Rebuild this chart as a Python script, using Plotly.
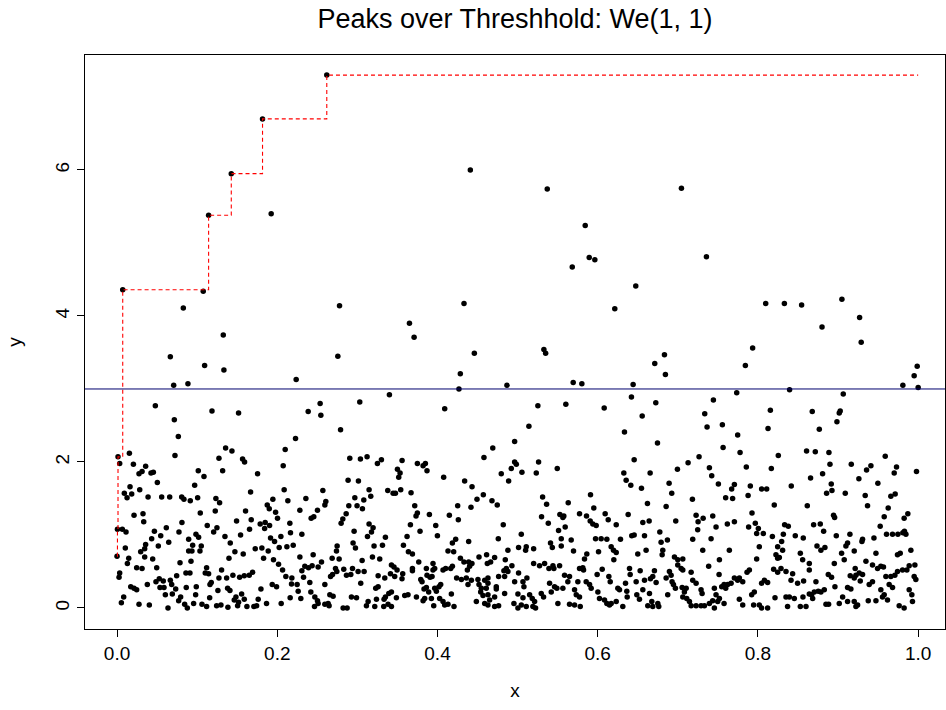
import numpy as np
import plotly.graph_objects as go

title_text = "Peaks over Threshhold: We(1, 1)"
threshold = 3.0
x_ticks = [0.0, 0.2, 0.4, 0.6, 0.8, 1.0]
x_tick_text = ["0.0", "0.2", "0.4", "0.6", "0.8", "1.0"]
y_ticks = [0, 2, 4, 6]
y_tick_text = ["0", "2", "4", "6"]

# ---- points above y ~ 2 (left half) ----
upper_left_x = [0.0, 0.0012, 0.0071, 0.1076, 0.1143, 0.1426, 0.1816, 0.2618, 0.1924,
                0.441, 0.0827, 0.2777, 0.4331, 0.365, 0.3708, 0.1326, 0.0665, 0.2756, 0.446,
                0.1093, 0.1334, 0.4285, 0.2236, 0.0707, 0.0885, 0.4268, 0.4867, 0.0478, 0.0715,
                0.0765, 0.1185, 0.1517, 0.2386, 0.2535, 0.2544, 0.303, 0.340, 0.409, 0.279,
                0.2228, 0.0154, 0.1355, 0.1434, 0.2099, 0.469, 0.4963]
upper_left_y = [0.71, 2.07, 4.36, 4.34, 5.38, 5.95, 6.70, 7.30, 5.40,
                6.00, 4.11, 4.14, 4.17, 3.90, 3.71, 3.74, 3.44, 3.45, 3.49,
                3.32, 3.26, 3.21, 3.13, 3.05, 3.07, 3.00, 3.05, 2.77, 2.58,
                2.35, 2.70, 2.67, 2.69, 2.80, 2.64, 2.82, 2.92, 2.73, 2.44,
                2.32, 2.12, 2.19, 2.15, 2.17, 2.19, 2.28]

# ---- points above y ~ 2 (right half) ----
upper_right_x = [0.537, 0.7045, 0.5844, 0.5894, 0.5964, 0.5682, 0.7357, 0.6475, 0.6213, 0.8097,
                 0.833, 0.8545, 0.9048, 0.9269, 0.9289, 0.880, 0.5328, 0.535, 0.7934, 0.7843,
                 0.6712, 0.6833, 0.6845, 0.5694, 0.5802, 0.6442, 0.7735, 0.8395, 0.9065, 0.9809,
                 0.995, 0.9988, 1.0, 0.5141, 0.5253, 0.5602, 0.6081, 0.6421, 0.6555, 0.6725,
                 0.6334, 0.6746, 0.7444, 0.7336, 0.7365, 0.7556, 0.7747, 0.7565, 0.7777, 0.8155,
                 0.8126, 0.8678, 0.8766, 0.8607, 0.8716, 0.8886, 0.9027, 0.9015, 0.8986]
upper_right_y = [5.74, 5.75, 5.24, 4.80, 4.77, 4.67, 4.81, 4.41, 4.10, 4.17,
                 4.17, 4.15, 4.23, 3.98, 3.64, 3.85, 3.54, 3.49, 3.56, 3.32,
                 3.35, 3.47, 3.20, 3.09, 3.07, 3.06, 2.95, 2.99, 2.93, 3.05,
                 3.18, 3.31, 3.02, 2.49, 2.77, 2.79, 2.74, 2.89, 2.63, 2.81,
                 2.41, 2.26, 2.85, 2.66, 2.48, 2.51, 2.37, 2.20, 2.13, 2.71,
                 2.46, 2.69, 2.45, 2.15, 2.14, 2.13, 2.70, 2.67, 2.55]

# ---- band 1 to 2, x 0.0 - 0.25 ----
band_a_x = [0.0723, 0.0033, 0.0204, 0.0357, 0.1272, 0.1567, 0.1592, 0.2074, 0.0274, 0.0312,
            0.0424, 0.0453, 0.1014, 0.1085, 0.1318, 0.1754, 0.0503, 0.0969, 0.0162, 0.0283,
            0.0091, 0.0125, 0.0183, 0.0387, 0.0557, 0.0657, 0.0807, 0.0835, 0.0914, 0.1006,
            0.1234, 0.1280, 0.1667, 0.2086, 0.1945, 0.2132, 0.2357, 0.1875, 0.1900, 0.2282,
            0.2502, 0.2456, 0.2423, 0.1604, 0.1226, 0.1039, 0.0212, 0.0324, 0.0333, 0.1979,
            0.2003, 0.1675, 0.1492, 0.0810, 0.2157, 0.1787, 0.1849, 0.1904, 0.1842, 0.1126,
            0.1247, 0.1206, 0.1654, 0.0005, 0.0066, 0.0112, 0.0615, 0.0466, 0.0773, 0.0985,
            0.1018, 0.0545, 0.0432, 0.0894, 0.1347, 0.1542, 0.1916, 0.2045, 0.2165, 0.2307]
band_a_y = [2.09, 1.98, 1.97, 1.94, 2.05, 2.04, 2.00, 1.95, 1.84, 1.87,
            1.85, 1.86, 1.88, 1.80, 1.88, 1.84, 1.72, 1.68, 1.66, 1.62,
            1.57, 1.51, 1.56, 1.52, 1.52, 1.52, 1.52, 1.49, 1.47, 1.51,
            1.50, 1.44, 1.59, 1.62, 1.49, 1.47, 1.50, 1.41, 1.36, 1.34,
            1.34, 1.25, 1.23, 1.33, 1.33, 1.30, 1.27, 1.29, 1.18, 1.31,
            1.23, 1.21, 1.19, 1.17, 1.16, 1.15, 1.17, 1.13, 1.09, 1.13,
            1.10, 1.04, 1.08, 1.08, 1.08, 1.04, 1.10, 1.05, 1.04, 1.01,
            0.97, 0.99, 0.95, 0.94, 0.98, 1.00, 0.96, 0.98, 1.03, 1.01]

# ---- band 1 to 2, x 0.25 - 0.5 ----
band_b_x = [0.2905, 0.3038, 0.3121, 0.3250, 0.3300, 0.3558, 0.3749, 0.3820, 0.3849, 0.3500,
            0.3533, 0.3516, 0.3869, 0.4077, 0.4580, 0.4963, 0.4921, 0.4984, 0.4796, 0.4888,
            0.5054, 0.2884, 0.3013, 0.4339, 0.4431, 0.2569, 0.3146, 0.3167, 0.3379, 0.3446,
            0.3475, 0.3541, 0.3670, 0.2968, 0.3080, 0.2606, 0.2594, 0.2893, 0.2996, 0.3063,
            0.3716, 0.2860, 0.2818, 0.2797, 0.3749, 0.3732, 0.3899, 0.4148, 0.4252, 0.4418,
            0.4493, 0.4572, 0.4680, 0.4746, 0.4260, 0.4821, 0.3662, 0.3978, 0.3782, 0.3146,
            0.3196, 0.3176, 0.3126, 0.2959, 0.3350, 0.3620, 0.3999, 0.4227, 0.4759, 0.5046]
band_b_y = [2.05, 2.04, 2.07, 1.98, 2.03, 2.02, 1.98, 1.95, 1.98, 1.90,
            1.85, 1.79, 1.88, 1.79, 2.06, 2.00, 1.91, 1.97, 1.84, 1.74,
            1.86, 1.75, 1.74, 1.74, 1.66, 1.61, 1.62, 1.53, 1.61, 1.57,
            1.57, 1.62, 1.58, 1.51, 1.48, 1.46, 1.41, 1.40, 1.40, 1.36,
            1.40, 1.29, 1.22, 1.16, 1.30, 1.26, 1.28, 1.27, 1.40, 1.38,
            1.49, 1.55, 1.47, 1.41, 1.21, 1.14, 1.14, 1.13, 1.05, 1.15,
            1.10, 1.04, 0.98, 1.05, 0.97, 0.98, 0.99, 0.94, 0.95, 1.01]

# ---- band 1 to 2, x 0.5 - 0.76 ----
band_c_x = [0.5262, 0.5233, 0.5495, 0.6455, 0.6326, 0.6355, 0.6413, 0.6654, 0.6546, 0.6995,
            0.7128, 0.7265, 0.7394, 0.7423, 0.7506, 0.6891, 0.6924, 0.7182, 0.7597, 0.5312,
            0.5362, 0.5632, 0.5910, 0.5951, 0.6621, 0.6854, 0.5299, 0.5383, 0.5528, 0.5565,
            0.5577, 0.5773, 0.5860, 0.5906, 0.5939, 0.5981, 0.6093, 0.6131, 0.6231, 0.6380,
            0.6563, 0.6642, 0.6974, 0.7228, 0.7253, 0.7316, 0.7436, 0.7477, 0.7618, 0.5594,
            0.5511, 0.6775, 0.7248, 0.6455, 0.6425, 0.6584]
band_c_y = [2.00, 1.85, 1.91, 2.03, 1.85, 1.75, 1.68, 1.85, 1.64, 1.90,
            1.99, 2.07, 1.92, 1.81, 1.70, 1.71, 1.57, 1.49, 1.51, 1.52,
            1.42, 1.44, 1.55, 1.37, 1.43, 1.39, 1.25, 1.16, 1.28, 1.24,
            1.26, 1.29, 1.26, 1.19, 1.15, 1.13, 1.29, 1.21, 1.14, 1.28,
            1.17, 1.19, 1.19, 1.27, 1.18, 1.23, 1.26, 1.11, 1.15, 1.11,
            1.06, 1.04, 1.07, 1.00, 0.99, 0.99]

# ---- band 1 to 2, x 0.76 - 1.0 ----
band_d_x = [0.8254, 0.9589, 0.7855, 0.8167, 0.8899, 0.9165, 0.9356, 0.9410, 0.9730, 0.9701,
            0.9979, 0.8657, 0.8807, 0.9260, 0.9497, 0.8915, 0.8924, 0.8857, 0.9090, 0.9339,
            0.9659, 0.9713, 0.7706, 0.7672, 0.7905, 0.8046, 0.8109, 0.8416, 0.7684, 0.7877,
            0.8204, 0.8616, 0.9368, 0.9626, 0.7926, 0.8944, 0.8957, 0.9576, 0.9825, 0.9871,
            0.7706, 0.7884, 0.7967, 0.8005, 0.8333, 0.8379, 0.8695, 0.8778, 0.8820, 0.9526,
            0.7984, 0.8067, 0.8180, 0.8317, 0.8466, 0.8566, 0.8978, 0.9148, 0.9306, 0.9448,
            0.9605, 0.9680, 0.9747, 0.9809, 0.9847, 0.9829]
band_d_y = [2.09, 2.08, 1.93, 1.91, 1.97, 1.97, 1.89, 1.95, 1.93, 1.85,
            1.87, 1.78, 1.84, 1.77, 1.71, 1.70, 1.61, 1.57, 1.57, 1.54,
            1.53, 1.56, 1.69, 1.63, 1.67, 1.63, 1.63, 1.67, 1.50, 1.54,
            1.41, 1.40, 1.40, 1.37, 1.30, 1.27, 1.24, 1.25, 1.23, 1.29,
            1.18, 1.11, 1.16, 1.09, 1.14, 1.12, 1.14, 1.15, 1.05, 1.12,
            1.02, 1.02, 0.98, 1.01, 0.99, 0.96, 0.99, 1.01, 0.94, 0.96,
            1.01, 1.01, 1.01, 1.03, 1.01, 1.05]

# ---- band 0 to 1, x 0.0 - 0.25 ----
low_a_x = [0.0645, 0.0103, 0.0357, 0.0345, 0.0515, 0.0295, 0.0345, 0.0445, 0.0245, 0.0312,
           0.0495, 0.0146, 0.0129, 0.0033, 0.0025, 0.0786, 0.0923, 0.0894, 0.0935, 0.0944,
           0.1051, 0.1035, 0.0860, 0.0910, 0.0744, 0.0378, 0.0171, 0.0212, 0.0245, 0.0486,
           0.0527, 0.0577, 0.0536, 0.0586, 0.0665, 0.0682, 0.0732, 0.0603, 0.0690, 0.0794,
           0.0769, 0.0864, 0.0989, 0.0981, 0.0844, 0.0877, 0.0956, 0.1060, 0.1118, 0.0083,
           0.0054, 0.0274, 0.0403, 0.0636, 0.1156, 0.1259, 0.1380, 0.1409, 0.1484, 0.1463,
           0.1517, 0.1555, 0.1588, 0.1243, 0.1297, 0.1384, 0.1505, 0.1621, 0.1708, 0.1742,
           0.1762, 0.1866, 0.1796, 0.2049, 0.2161, 0.2294, 0.2465, 0.2419, 0.2261, 0.1937,
           0.1991, 0.2178, 0.2248, 0.2406, 0.1118, 0.1101, 0.1143, 0.1305, 0.1368, 0.1446,
           0.1176, 0.1160, 0.1272, 0.1530, 0.1588, 0.1650, 0.1692, 0.1397, 0.1471, 0.1575,
           0.1413, 0.1725, 0.1808, 0.1887, 0.1829, 0.1966, 0.2024, 0.2120, 0.2199, 0.1953,
           0.2016, 0.2066, 0.2107, 0.2182, 0.2282, 0.2307, 0.2344, 0.2390, 0.2435, 0.2448,
           0.2328]
low_a_y = [0.90, 0.82, 0.87, 0.81, 0.85, 0.77, 0.70, 0.67, 0.55, 0.54,
           0.55, 0.68, 0.61, 0.48, 0.42, 0.62, 0.64, 0.78, 0.78, 0.86,
           0.85, 0.78, 0.48, 0.48, 0.44, 0.32, 0.29, 0.27, 0.25, 0.36,
           0.40, 0.37, 0.28, 0.28, 0.38, 0.32, 0.26, 0.18, 0.19, 0.15,
           0.10, 0.28, 0.29, 0.18, 0.05, 0.00, 0.06, 0.05, 0.02, 0.15,
           0.07, 0.05, 0.04, 0.00, 0.14, 0.24, 0.27, 0.24, 0.15, 0.11,
           0.08, 0.19, 0.12, 0.03, 0.04, 0.01, 0.03, 0.02, 0.02, 0.03,
           0.12, 0.06, 0.26, 0.06, 0.14, 0.13, 0.02, 0.22, 0.23, 0.32,
           0.29, 0.33, 0.32, 0.35, 0.55, 0.48, 0.47, 0.52, 0.41, 0.45,
           0.35, 0.32, 0.41, 0.42, 0.44, 0.45, 0.49, 0.68, 0.77, 0.74,
           0.89, 0.81, 0.82, 0.78, 0.68, 0.91, 0.83, 0.84, 0.86, 0.66,
           0.60, 0.52, 0.43, 0.41, 0.70, 0.51, 0.57, 0.55, 0.58, 0.73,
           0.42]

# ---- band 0 to 1, x 0.25 - 0.5 ----
low_b_x = [0.4186, 0.4389, 0.2946, 0.2976, 0.2747, 0.2739, 0.3208, 0.3313, 0.3575, 0.3637,
           0.3687, 0.4131, 0.4202, 0.4879, 0.5012, 0.2552, 0.2685, 0.2772, 0.3059, 0.3188,
           0.3279, 0.3425, 0.3457, 0.3495, 0.3766, 0.3944, 0.4286, 0.4330, 0.4389, 0.4430,
           0.4401, 0.4373, 0.4518, 0.4613, 0.4713, 0.4663, 0.4622, 0.4846, 0.4929, 0.4859,
           0.4829, 0.2510, 0.2727, 0.2743, 0.2830, 0.2864, 0.2918, 0.2939, 0.3009, 0.3084,
           0.2665, 0.2690, 0.3259, 0.3342, 0.3413, 0.3466, 0.3566, 0.3557, 0.3687, 0.3687,
           0.3861, 0.3944, 0.3965, 0.4069, 0.4102, 0.4165, 0.4186, 0.3869, 0.3932, 0.3907,
           0.3791, 0.3807, 0.4239, 0.4298, 0.4360, 0.4423, 0.4505, 0.4589, 0.4630, 0.4381,
           0.4518, 0.4547, 0.4630, 0.4609, 0.4763, 0.4838, 0.4879, 0.4963, 0.5012, 0.4734,
           0.4734, 0.4838, 0.5004, 0.4539, 0.4568, 0.4630, 0.4651, 0.4713, 0.4485, 0.4589,
           0.4630, 0.4713, 0.4763, 0.4954, 0.5004, 0.5046, 0.2469, 0.2502, 0.2510, 0.2594,
           0.2656, 0.2697, 0.2594, 0.2647, 0.2635, 0.2822, 0.2872, 0.2926, 0.2989, 0.3042,
           0.3259, 0.3229, 0.3134, 0.3113, 0.3238, 0.3217, 0.3333, 0.3350, 0.3392, 0.3425,
           0.3329, 0.3383, 0.3425, 0.3487, 0.3591, 0.3632, 0.3737, 0.3820, 0.3840, 0.3924,
           0.3953, 0.4027, 0.4069, 0.4090, 0.4131, 0.4206, 0.4173, 0.3832, 0.3861, 0.3890,
           0.3965, 0.3986, 0.4019, 0.4040]
low_b_y = [0.89, 0.91, 0.89, 0.82, 0.85, 0.78, 0.85, 0.86, 0.86, 0.77,
           0.74, 0.78, 0.77, 0.79, 0.83, 0.63, 0.68, 0.67, 0.65, 0.70,
           0.67, 0.59, 0.56, 0.52, 0.63, 0.61, 0.68, 0.63, 0.63, 0.61,
           0.57, 0.52, 0.70, 0.73, 0.69, 0.63, 0.61, 0.66, 0.58, 0.54,
           0.51, 0.56, 0.54, 0.50, 0.53, 0.45, 0.46, 0.54, 0.50, 0.50,
           0.43, 0.46, 0.44, 0.41, 0.47, 0.43, 0.47, 0.40, 0.54, 0.51,
           0.54, 0.52, 0.54, 0.52, 0.54, 0.54, 0.57, 0.45, 0.43, 0.42,
           0.39, 0.36, 0.41, 0.39, 0.41, 0.38, 0.39, 0.38, 0.41, 0.32,
           0.32, 0.27, 0.34, 0.27, 0.43, 0.43, 0.50, 0.36, 0.48, 0.29,
           0.26, 0.20, 0.19, 0.22, 0.17, 0.18, 0.11, 0.15, 0.09, 0.06,
           0.04, 0.02, 0.03, 0.06, 0.00, 0.04, 0.15, 0.10, 0.06, 0.32,
           0.18, 0.16, 0.05, 0.03, 0.06, 0.00, 0.00, 0.15, 0.14, 0.34,
           0.29, 0.27, 0.09, 0.03, 0.12, 0.02, 0.12, 0.15, 0.20, 0.22,
           0.02, 0.05, 0.02, 0.14, 0.17, 0.18, 0.15, 0.10, 0.13, 0.13,
           0.03, 0.13, 0.09, 0.04, 0.05, 0.02, 0.19, 0.26, 0.28, 0.22,
           0.27, 0.23, 0.29, 0.32]

# ---- band 0 to 1, x 0.5 - 0.76 ----
low_c_x = [0.5545, 0.5669, 0.5973, 0.6043, 0.6114, 0.6284, 0.6870, 0.7186, 0.7415, 0.5108,
           0.5100, 0.5200, 0.5411, 0.5433, 0.5545, 0.5698, 0.5864, 0.5835, 0.6010, 0.6168,
           0.6197, 0.6231, 0.6201, 0.6500, 0.6604, 0.6791, 0.6812, 0.6804, 0.6958, 0.6999,
           0.7062, 0.7311, 0.7519, 0.7385, 0.5200, 0.5274, 0.5337, 0.5391, 0.5441, 0.5453,
           0.5524, 0.5116, 0.5067, 0.5079, 0.5067, 0.5150, 0.5183, 0.5212, 0.5108, 0.5191,
           0.5224, 0.5295, 0.5324, 0.5399, 0.5420, 0.5461, 0.5490, 0.5565, 0.5586, 0.5648,
           0.5627, 0.5503, 0.5648, 0.5711, 0.5782, 0.5711, 0.5732, 0.5773, 0.5773, 0.5814,
           0.5823, 0.5752, 0.5856, 0.5898, 0.5918, 0.5993, 0.6056, 0.6139, 0.6156, 0.6002,
           0.6022, 0.6085, 0.6114, 0.6147, 0.6168, 0.6251, 0.6272, 0.6231, 0.6313, 0.6347,
           0.6363, 0.6368, 0.6397, 0.6405, 0.6480, 0.6530, 0.6563, 0.6488, 0.6521, 0.6584,
           0.6658, 0.6687, 0.6708, 0.6729, 0.6646, 0.6675, 0.6625, 0.6687, 0.6750, 0.6762,
           0.6854, 0.6895, 0.6916, 0.6928, 0.6945, 0.6970, 0.6874, 0.6999, 0.7041, 0.7062,
           0.7166, 0.7054, 0.7104, 0.7082, 0.7062, 0.7111, 0.7145, 0.7166, 0.7228, 0.7290,
           0.7332, 0.7186, 0.7228, 0.7290, 0.7303, 0.7515, 0.7456, 0.7477, 0.7435, 0.7498,
           0.7519, 0.7394, 0.7456, 0.7548, 0.7577, 0.7598, 0.7577]
low_c_y = [0.95, 0.93, 0.95, 0.95, 0.94, 0.94, 0.93, 0.94, 0.95, 0.84,
           0.79, 0.81, 0.89, 0.83, 0.85, 0.78, 0.74, 0.67, 0.77, 0.84,
           0.79, 0.76, 0.66, 0.74, 0.79, 0.90, 0.79, 0.73, 0.70, 0.66,
           0.67, 0.79, 0.66, 0.57, 0.61, 0.58, 0.61, 0.54, 0.58, 0.54,
           0.58, 0.41, 0.36, 0.29, 0.14, 0.18, 0.13, 0.09, 0.02, 0.02,
           0.00, 0.20, 0.15, 0.34, 0.22, 0.29, 0.27, 0.27, 0.45, 0.43,
           0.36, 0.06, 0.05, 0.04, 0.02, 0.25, 0.18, 0.15, 0.54, 0.55,
           0.52, 0.36, 0.36, 0.32, 0.27, 0.46, 0.53, 0.43, 0.36, 0.22,
           0.13, 0.11, 0.06, 0.04, 0.06, 0.27, 0.25, 0.09, 0.02, 0.34,
           0.23, 0.15, 0.54, 0.46, 0.36, 0.51, 0.25, 0.18, 0.12, 0.38,
           0.40, 0.43, 0.51, 0.35, 0.20, 0.09, 0.03, 0.02, 0.06, 0.02,
           0.41, 0.50, 0.45, 0.36, 0.32, 0.27, 0.18, 0.59, 0.54, 0.52,
           0.49, 0.28, 0.27, 0.22, 0.15, 0.13, 0.09, 0.03, 0.03, 0.03,
           0.03, 0.38, 0.34, 0.25, 0.20, 0.46, 0.27, 0.18, 0.10, 0.09,
           0.13, 0.06, 0.00, 0.29, 0.32, 0.27, 0.06]

# ---- band 0 to 1, x 0.76 - 1.0 ----
low_d_x = [0.8296, 0.8308, 0.8246, 0.8225, 0.8267, 0.8246, 0.7643, 0.8017, 0.7984, 0.8529,
           0.8558, 0.8641, 0.8641, 0.8737, 0.8786, 0.8836, 0.9044, 0.9077, 0.9098, 0.9119,
           0.9202, 0.9298, 0.9473, 0.9348, 0.9430, 0.9493, 0.9534, 0.9567, 0.9742, 0.9776,
           0.9909, 0.9888, 0.9959, 0.9742, 0.9805, 0.9859, 0.9950, 0.9971, 0.9597, 0.9659,
           0.9709, 0.9638, 0.9680, 0.9888, 0.9921, 0.9929, 0.9763, 0.9825, 0.9534, 0.9555,
           0.9617, 0.9576, 0.9377, 0.9473, 0.9389, 0.9430, 0.9264, 0.9306, 0.9152, 0.9202,
           0.9223, 0.9214, 0.9277, 0.8953, 0.8878, 0.8919, 0.8961, 0.9119, 0.9160, 0.9057,
           0.9119, 0.9202, 0.9244, 0.9223, 0.9015, 0.8828, 0.8724, 0.8753, 0.8703, 0.8670,
           0.8683, 0.8641, 0.8786, 0.8882, 0.8849, 0.8562, 0.8495, 0.8570, 0.8529, 0.8600,
           0.8370, 0.8350, 0.8392, 0.8454, 0.8213, 0.8413, 0.8433, 0.8350, 0.8288, 0.8246,
           0.8196, 0.8080, 0.8046, 0.8121, 0.7893, 0.7864, 0.7768, 0.7747, 0.7706, 0.7810,
           0.7622, 0.7665, 0.7955, 0.7922, 0.7768, 0.7810, 0.7946, 0.8017, 0.8046, 0.8121]
low_d_y = [0.91, 0.79, 0.84, 0.73, 0.69, 0.68, 0.79, 0.84, 0.67, 0.75,
           0.66, 0.61, 0.52, 0.85, 0.79, 0.83, 0.75, 0.66, 0.85, 0.89,
           0.78, 0.91, 0.75, 0.64, 0.59, 0.54, 0.57, 0.56, 0.73, 0.75,
           0.79, 0.58, 0.59, 0.50, 0.52, 0.52, 0.43, 0.39, 0.43, 0.43,
           0.45, 0.32, 0.28, 0.25, 0.18, 0.09, 0.03, 0.00, 0.25, 0.15,
           0.11, 0.18, 0.10, 0.10, 0.32, 0.36, 0.48, 0.46, 0.44, 0.41,
           0.45, 0.54, 0.37, 0.61, 0.46, 0.42, 0.29, 0.28, 0.26, 0.15,
           0.09, 0.09, 0.04, 0.02, 0.06, 0.25, 0.36, 0.23, 0.22, 0.18,
           0.13, 0.19, 0.22, 0.05, 0.05, 0.15, 0.34, 0.37, 0.02, 0.02,
           0.02, 0.15, 0.15, 0.13, 0.14, 0.38, 0.47, 0.50, 0.54, 0.49,
           0.53, 0.38, 0.34, 0.35, 0.52, 0.49, 0.41, 0.38, 0.41, 0.36,
           0.32, 0.34, 0.22, 0.18, 0.12, 0.04, 0.04, 0.04, 0.00, 0.00]

groups = [
    (upper_left_x, upper_left_y), (upper_right_x, upper_right_y),
    (band_a_x, band_a_y), (band_b_x, band_b_y), (band_c_x, band_c_y), (band_d_x, band_d_y),
    (low_a_x, low_a_y), (low_b_x, low_b_y), (low_c_x, low_c_y), (low_d_x, low_d_y),
]
for gx, gy in groups:
    assert len(gx) == len(gy), (len(gx), len(gy))

x_all = np.concatenate([np.array(g[0], dtype=float) for g in groups])
y_all = np.concatenate([np.array(g[1], dtype=float) for g in groups])

# running maximum (record values) over x order
order = np.argsort(x_all, kind="stable")
xs = x_all[order]
run_max = np.maximum.accumulate(y_all[order])
keep = np.r_[True, np.diff(run_max) > 0]
keep[-1] = True
rec_x = xs[keep]
rec_y = run_max[keep]

FONT = "Liberation Sans, Arial, Helvetica, sans-serif"

fig = go.Figure()
fig.add_trace(go.Scatter(
    x=x_all, y=y_all, mode="markers",
    marker=dict(color="black", size=5.5, line=dict(width=0)),
    hoverinfo="skip", showlegend=False))
fig.add_trace(go.Scatter(
    x=rec_x, y=rec_y, mode="lines",
    line=dict(color="#ff0000", width=1.1, dash="4px,3px", shape="hv"),
    hoverinfo="skip", showlegend=False))
fig.add_shape(type="line", xref="paper", x0=0, x1=1, yref="y",
              y0=threshold, y1=threshold,
              line=dict(color="#00006e", width=1))

FIG_W, FIG_H = 946, 710
fig.update_layout(
    width=FIG_W, height=FIG_H,
    margin=dict(l=85, r=1, t=55, b=81),
    paper_bgcolor="white", plot_bgcolor="white",
    font=dict(family=FONT, size=19, color="black"),
    title=dict(text=title_text, x=0.5, xref="paper", xanchor="center",
               y=1 - 19 / FIG_H, yref="container", yanchor="middle",
               font=dict(family=FONT, size=27, color="black")),
    showlegend=False,
    hovermode=False,
)
fig.update_xaxes(
    range=[-0.04, 1.0335], tickmode="array", tickvals=x_ticks, ticktext=x_tick_text,
    ticks="outside", ticklen=7, tickwidth=1, tickcolor="black",
    showline=True, linecolor="black", linewidth=1, mirror=True,
    showgrid=False, zeroline=False,
    title=dict(text="x", standoff=20, font=dict(family=FONT, size=19)),
)
fig.update_yaxes(
    range=[-0.288, 7.575], tickmode="array", tickvals=y_ticks, ticktext=y_tick_text,
    tickangle=-90,
    ticks="outside", ticklen=7, tickwidth=1, tickcolor="black",
    showline=True, linecolor="black", linewidth=1, mirror=True,
    showgrid=False, zeroline=False,
    title=dict(text="y", standoff=25, font=dict(family=FONT, size=19)),
)

fig.write_html(
    "out.html",
    config={"displayModeBar": False, "staticPlot": True},
    post_script="document.body.style.margin='0';document.body.style.overflow='hidden';",
)
